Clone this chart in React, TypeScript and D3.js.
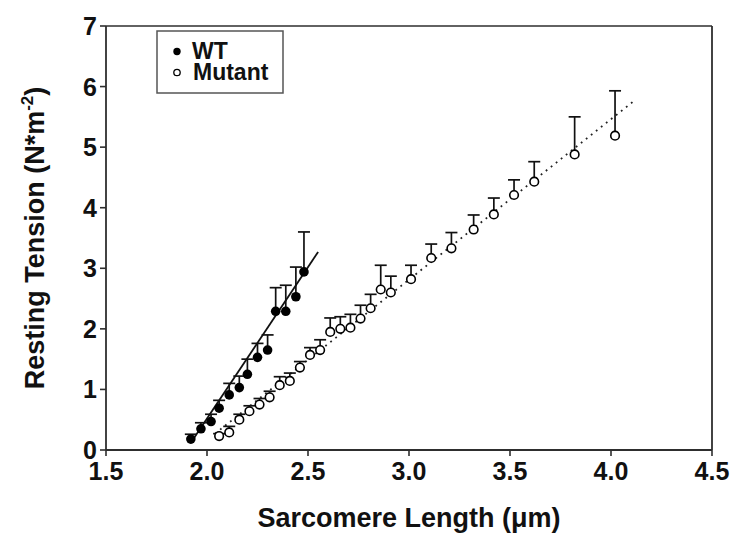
import React from 'react';
import * as d3 from 'd3';

// sarcomere length (um), resting tension (N*m^-2), upper error (SEM)
const wtLength = [1.92, 1.97, 2.02, 2.06, 2.11, 2.16, 2.2, 2.25, 2.3, 2.34, 2.39, 2.44, 2.48];
const wtTension = [0.18, 0.35, 0.47, 0.69, 0.91, 1.03, 1.25, 1.53, 1.65, 2.29, 2.29, 2.53, 2.94];
const wtError = [0.08, 0.1, 0.12, 0.13, 0.19, 0.19, 0.25, 0.23, 0.25, 0.39, 0.43, 0.49, 0.66];

const mutLength = [2.06, 2.11, 2.16, 2.21, 2.26, 2.31, 2.36, 2.41, 2.46, 2.51, 2.56, 2.61, 2.66, 2.71, 2.76, 2.81, 2.86, 2.91, 3.01, 3.11, 3.21, 3.32, 3.42, 3.52, 3.62, 3.82, 4.02];
const mutTension = [0.23, 0.29, 0.5, 0.64, 0.75, 0.87, 1.07, 1.14, 1.36, 1.57, 1.65, 1.95, 2.0, 2.02, 2.17, 2.34, 2.65, 2.6, 2.82, 3.17, 3.33, 3.64, 3.89, 4.21, 4.43, 4.88, 5.19];
const mutError = [0.04, 0.1, 0.09, 0.09, 0.1, 0.1, 0.14, 0.13, 0.1, 0.12, 0.17, 0.23, 0.2, 0.22, 0.22, 0.23, 0.4, 0.27, 0.23, 0.23, 0.26, 0.24, 0.27, 0.25, 0.33, 0.62, 0.74];

// fitted lines (end points)
const wtFitLength = [1.92, 2.55];
const wtFitTension = [0.12, 3.27];
const mutFitLength = [2.04, 4.124];
const mutFitTension = [0.27, 5.79];

const xTicks = [1.5, 2.0, 2.5, 3.0, 3.5, 4.0, 4.5];
const yTicks = [0, 1, 2, 3, 4, 5, 6, 7];

const W = 750;
const H = 542;
const FONT = '"Liberation Sans", Arial, Helvetica, sans-serif';

export default function App() {
  const margin = { top: 26, right: 38, bottom: 92, left: 106 };
  const x = d3.scaleLinear().domain([1.5, 4.5]).range([margin.left, W - margin.right]);
  const y = d3.scaleLinear().domain([0, 7]).range([H - margin.bottom, margin.top]);
  const line = d3.line<number>().x((d, i) => x(d)).y((d, i) => 0);

  const wtFit = wtFitLength.map((d, i) => [x(d), y(wtFitTension[i])] as [number, number]);
  const mutFit = mutFitLength.map((d, i) => [x(d), y(mutFitTension[i])] as [number, number]);
  const path = d3.line();

  const axisColor = '#2e2e2e';
  const capHalf = 6;

  const errorBars = (len: number[], ten: number[], err: number[], key: string) =>
    len.map((d, i) => (
      <g key={key + i} stroke="#111" strokeWidth={1.7}>
        <line x1={x(d)} x2={x(d)} y1={y(ten[i])} y2={y(ten[i] + err[i])} />
        <line x1={x(d) - capHalf} x2={x(d) + capHalf} y1={y(ten[i] + err[i])} y2={y(ten[i] + err[i])} />
      </g>
    ));

  void line;

  return (
    <svg width={W} height={H} style={{ position: 'absolute', left: 0, top: 0, background: '#fff' }} fontFamily={FONT}>
      <rect width={W} height={H} fill="#fff" />

      {/* frame */}
      <line x1={x(1.5)} x2={x(4.5)} y1={y(7)} y2={y(7)} stroke={axisColor} strokeWidth={1.6} />
      <line x1={x(4.5)} x2={x(4.5)} y1={y(7)} y2={y(0)} stroke={axisColor} strokeWidth={1.8} />
      <line x1={x(1.5)} x2={x(4.5)} y1={y(0)} y2={y(0)} stroke={axisColor} strokeWidth={1.8} />
      <line x1={x(1.5)} x2={x(1.5)} y1={y(7)} y2={y(0)} stroke={axisColor} strokeWidth={1.8} />

      {/* ticks */}
      {xTicks.map(t => (
        <g key={'xt' + t}>
          <line x1={x(t)} x2={x(t)} y1={y(0)} y2={y(0) + 6} stroke={axisColor} strokeWidth={1.6} />
          <text x={x(t)} y={y(0) + 30} textAnchor="middle" fontSize={25} fontWeight="bold" fill="#111">
            {t.toFixed(1)}
          </text>
        </g>
      ))}
      {yTicks.map(t => (
        <g key={'yt' + t}>
          <line x1={x(1.5) - 6} x2={x(1.5)} y1={y(t)} y2={y(t)} stroke={axisColor} strokeWidth={1.6} />
          <text x={x(1.5) - 9} y={y(t)} dy="0.36em" textAnchor="end" fontSize={25} fontWeight="bold" fill="#111">
            {t}
          </text>
        </g>
      ))}

      {/* axis titles */}
      <text x={(x(1.5) + x(4.5)) / 2} y={527} textAnchor="middle" fontSize={27} fontWeight="bold" fill="#111">
        Sarcomere Length (μm)
      </text>
      <text
        transform={`translate(44, ${(y(0) + y(7)) / 2}) rotate(-90)`}
        textAnchor="middle"
        fontSize={27}
        fontWeight="bold"
        fill="#111"
      >
        Resting Tension (N*m<tspan fontSize={17} dy={-11}>-2</tspan><tspan dy={11}>)</tspan>
      </text>

      {/* fit lines */}
      <path d={path(wtFit) || ''} stroke="#111" strokeWidth={1.8} fill="none" />
      <path d={path(mutFit) || ''} stroke="#222" strokeWidth={1.8} fill="none" strokeDasharray="1.8,4.6" />

      {/* error bars */}
      {errorBars(wtLength, wtTension, wtError, 'wte')}
      {errorBars(mutLength, mutTension, mutError, 'mue')}

      {/* markers */}
      {wtLength.map((d, i) => (
        <circle key={'wt' + i} cx={x(d)} cy={y(wtTension[i])} r={4.8} fill="#000" />
      ))}
      {mutLength.map((d, i) => (
        <circle key={'mu' + i} cx={x(d)} cy={y(mutTension[i])} r={4.3} fill="#fff" stroke="#000" strokeWidth={1.6} />
      ))}

      {/* legend */}
      <rect x={157} y={31} width={126} height={62} fill="#fff" stroke="#555" strokeWidth={1.5} />
      <circle cx={177} cy={51.5} r={3.7} fill="#000" />
      <text x={192} y={58.5} fontSize={23} fontWeight="bold" fill="#111">WT</text>
      <circle cx={177} cy={72.5} r={3.2} fill="#fff" stroke="#000" strokeWidth={1.3} />
      <text x={193} y={80} fontSize={23} fontWeight="bold" fill="#111">Mutant</text>
    </svg>
  );
}
